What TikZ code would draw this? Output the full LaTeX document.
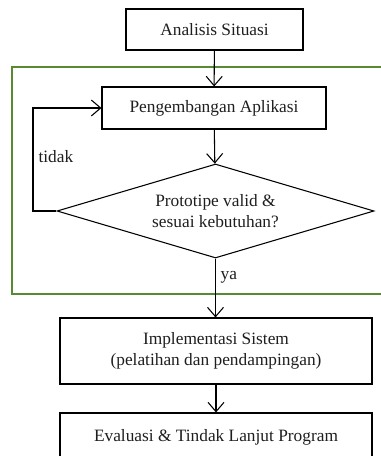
\documentclass[tikz,border=0pt]{standalone}
\usepackage{fontspec}
\setmainfont{Liberation Serif}
\usepackage{xcolor}
\usepackage{tikz}
\usetikzlibrary{arrows.meta,positioning,shapes.geometric}
\definecolor{hijaubingkai}{RGB}{88,138,52}
\definecolor{teksgelap}{RGB}{30,30,30}
\tikzset{
  kotak/.style={rectangle,draw=black,line width=0.8pt,align=center,
    text=teksgelap,font=\fontsize{13}{15.5}\selectfont},
  keputusan/.style={diamond,shape aspect=3.4,draw=black,line width=0.8pt,align=center,
    inner sep=0pt,text=teksgelap,font=\fontsize{13}{15.5}\selectfont},
  label/.style={text=teksgelap,font=\fontsize{13}{15.5}\selectfont,inner sep=1pt},
  panah/.style={-{Straight Barb[length=7pt,width=12pt]},line width=0.8pt}
}
\begin{document}
\begin{tikzpicture}[x=0.75pt,y=-0.75pt]
  \useasboundingbox (0,0) rectangle (381,456);
  \draw[hijaubingkai,line width=1.2pt] (12,67) rectangle (390,294);
  \node[kotak,minimum width=132.75pt,minimum height=30.75pt] (analisis) at (214.5,29.5) {Analisis Situasi};
  \node[kotak,minimum width=168pt,minimum height=31.5pt] (kembang) at (214,108) {Pengembangan Aplikasi};
  \node[keputusan,minimum width=237.75pt,minimum height=70.5pt] (uji) at (215.5,211)
    {Prototipe valid \&\\sesuai kebutuhan?};
  \node[kotak,minimum width=234pt,minimum height=49.5pt] (implementasi) at (216,351)
    {Implementasi Sistem\\(pelatihan dan pendampingan)};
  \node[kotak,minimum width=234pt,minimum height=36pt] (evaluasi) at (216,437)
    {Evaluasi \& Tindak Lanjut Program};
  \coordinate (kiri) at (33,211);
  \draw[panah] (analisis) -- (kembang);
  \draw[panah] (kembang) -- (uji);
  \draw[panah] (uji.west) -- (kiri) |- (kembang.west);
  \node[label,anchor=west] (tidak) at (37,157) {tidak};
  \draw[panah] (uji.south) -- (uji.south |- implementasi.north);
  \node[label,anchor=west] (ya) at (219,277) {ya};
  \draw[panah] (implementasi) -- (evaluasi);
\end{tikzpicture}
\end{document}
